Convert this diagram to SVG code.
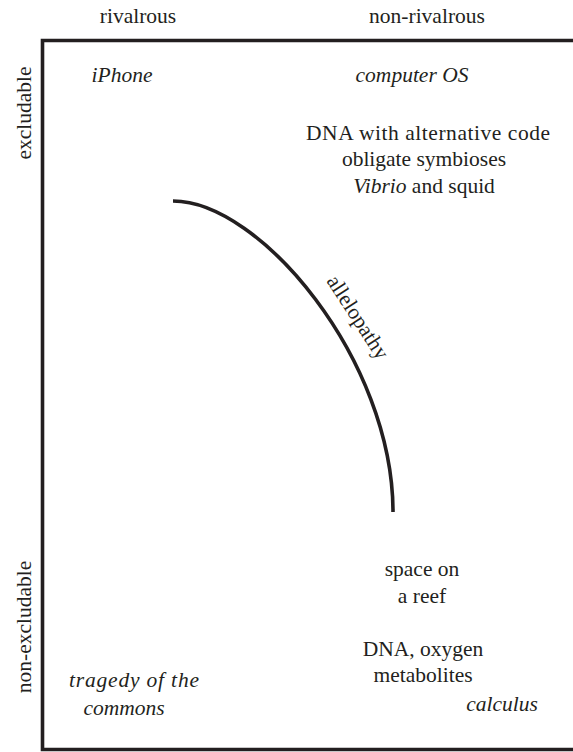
<svg xmlns="http://www.w3.org/2000/svg" width="573" height="752" viewBox="0 0 573 752">
<style>
text{font-family:'Liberation Serif','Times New Roman',serif;font-size:21.5px;fill:#231f20;text-anchor:middle}
.i{font-style:italic}
.line{fill:none;stroke:#231f20;stroke-width:3.6}
</style>
<rect width="573" height="752" fill="#fff"/>
<g id="frame">
<path class="line" d="M573,40.5 H42.5 V749.5 H573"/>
</g>
<g id="axis-labels">
<text x="138" y="23">rivalrous</text>
<text x="427" y="23">non-rivalrous</text>
<text transform="translate(31,113) rotate(-90)">excludable</text>
<text transform="translate(31,627) rotate(-90)">non-excludable</text>
</g>
<g id="iphone"><text class="i" x="122" y="82">iPhone</text></g>
<g id="computer-os"><text class="i" x="412" y="82">computer OS</text></g>
<g id="dna-alt">
<text x="428" y="140" textLength="244" lengthAdjust="spacing">DNA with alternative code</text>
<text x="424" y="166">obligate symbioses</text>
<text x="424" y="193"><tspan font-style="italic">Vibrio</tspan> and squid</text>
</g>
<g id="connectors">
<path class="line" d="M173,201 C260,201 393,360 393,512"/>
</g>
<g id="allelopathy"><text transform="translate(352,321) rotate(57)">allelopathy</text></g>
<g id="space-reef">
<text x="422" y="576">space on</text>
<text x="422" y="603">a reef</text>
</g>
<g id="dna-oxygen">
<text x="423" y="656">DNA, oxygen</text>
<text x="423" y="682">metabolites</text>
</g>
<g id="tragedy">
<text class="i" x="134" y="687" textLength="130" lengthAdjust="spacing">tragedy of the</text>
<text class="i" x="124" y="715">commons</text>
</g>
<g id="calculus"><text class="i" x="502" y="711">calculus</text></g>
</svg>
